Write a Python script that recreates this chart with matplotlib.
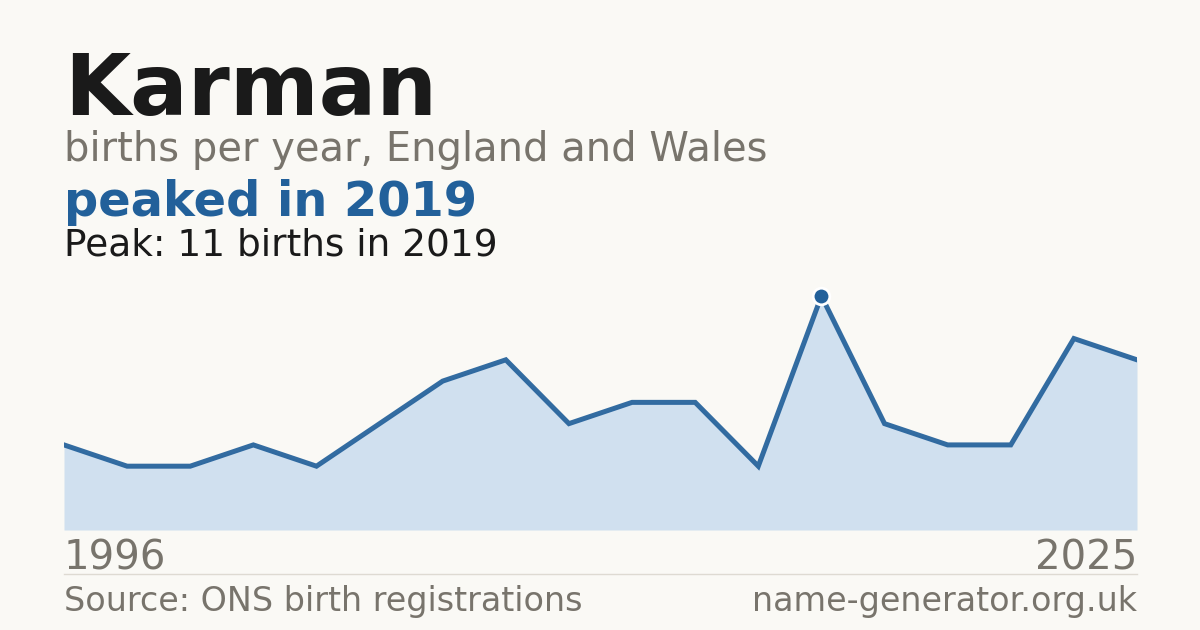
import matplotlib.pyplot as plt
import numpy as np

years = [1996, 1997, 1998, 1999, 2000, 2001, 2002, 2003, 2004,
         2005, 2006, 2007, 2019, 2020, 2021, 2022, 2023, 2025]
births = [4, 3, 3, 4, 3, 5, 7, 8, 5, 6, 6, 3, 11, 5, 4, 4, 9, 8]
peak_year = 2019
peak_value = 11

bg = '#faf9f5'
blue = '#22609a'
fill = '#d0e0ef'
grey = '#78746c'

W, H = 1200, 630
fig = plt.figure(figsize=(12, 6.3), dpi=100, facecolor=bg)

x = np.arange(len(births))
ax = fig.add_axes([64 / W, 1 - 530 / H, (1137 - 64) / W, (530 - 296) / H])
ax.set_facecolor(bg)
ax.fill_between(x, births, 0, color=fill, lw=0)
ax.plot(x, births, color=blue, lw=3.6, solid_joinstyle='miter', alpha=0.92)
ip = years.index(peak_year)
ax.plot([x[ip]], [births[ip]], 'o', ms=12, color=blue, mec='white', mew=2, clip_on=False, zorder=5)
ax.set_xlim(x[0], x[-1])
ax.set_ylim(0, peak_value)
ax.axis('off')

def t(px, py, s, **kw):
    fig.text(px / W, 1 - py / H, s, va='baseline', **kw)

t(64, 115, 'Karman', fontsize=61.5, fontweight='bold', color='#1a1a1a')
t(64, 161, 'births per year, England and Wales', fontsize=28.8, color=grey)
t(64, 216, 'peaked in %d' % peak_year, fontsize=34.5, fontweight='bold', color=blue)
t(64, 255, 'Peak: %d births in %d' % (peak_value, peak_year), fontsize=27, color='#1a1a1a')
t(64, 570, str(years[0]), fontsize=29, color=grey)
t(1137, 570, str(years[-1]), fontsize=29, color=grey, ha='right')
t(64, 611, 'Source: ONS birth registrations', fontsize=24, color=grey)
t(1137, 611, 'name-generator.org.uk', fontsize=24, color=grey, ha='right')

fig.add_artist(plt.Line2D([64 / W, 1137 / W], [1 - 574 / H] * 2, color='#dedad2', lw=1))

plt.savefig('out.png', facecolor=bg)
